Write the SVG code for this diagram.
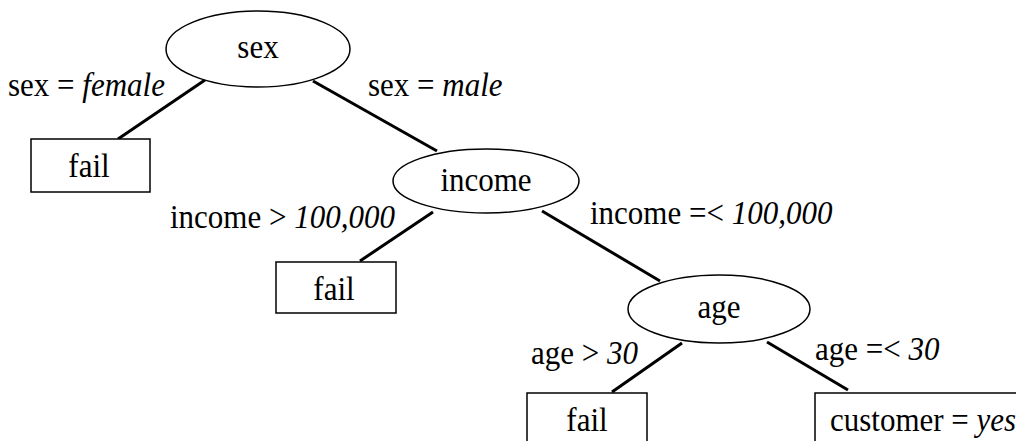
<svg xmlns="http://www.w3.org/2000/svg" width="1016" height="441" viewBox="0 0 1016 441">
<style>
text{font-family:'Liberation Serif','Times New Roman',serif;font-size:31px;fill:#000}
.it{font-style:italic}
.m{text-anchor:middle}
.n{fill:#fff;stroke:#000;stroke-width:1.5}
.e{stroke:#000;stroke-width:3;fill:none}
</style>
<rect width="1016" height="441" fill="#fff"/>
<g id="connectors">
<line class="e" x1="205" y1="80" x2="118" y2="139"/>
<line class="e" x1="313" y1="81" x2="437" y2="151"/>
<line class="e" x1="433" y1="212" x2="360" y2="261"/>
<line class="e" x1="542" y1="211" x2="660" y2="281"/>
<line class="e" x1="682" y1="343" x2="612" y2="392"/>
<line class="e" x1="767" y1="342" x2="848" y2="390"/>
</g>
<g id="labels">
<text transform="translate(8,96) scale(1,1.12)">sex = <tspan class="it">female</tspan></text>
<text transform="translate(368,96) scale(1,1.12)">sex = <tspan class="it">male</tspan></text>
<text transform="translate(170,228) scale(1,1.12)">income &gt; <tspan class="it">100,000</tspan></text>
<text transform="translate(590,224) scale(1,1.12)">income =&lt; <tspan class="it">100,000</tspan></text>
<text transform="translate(531,364) scale(1,1.12)">age &gt; <tspan class="it">30</tspan></text>
<text transform="translate(815,360) scale(1,1.12)">age =&lt; <tspan class="it">30</tspan></text>
</g>
<g id="node-sex">
<ellipse class="n" cx="258" cy="49" rx="92" ry="38"/>
<text class="m" transform="translate(258,58) scale(1,1.12)">sex</text>
</g>
<g id="node-fail1">
<rect class="n" x="31" y="139" width="119" height="53"/>
<text class="m" transform="translate(89,177) scale(1,1.12)">fail</text>
</g>
<g id="node-income">
<ellipse class="n" cx="486" cy="181" rx="93" ry="32"/>
<text class="m" transform="translate(486,191) scale(1,1.12)">income</text>
</g>
<g id="node-fail2">
<rect class="n" x="276" y="262" width="120" height="51"/>
<text class="m" transform="translate(334,300) scale(1,1.12)">fail</text>
</g>
<g id="node-age">
<ellipse class="n" cx="719" cy="309" rx="91" ry="34"/>
<text class="m" transform="translate(719,318) scale(1,1.12)">age</text>
</g>
<g id="node-fail3">
<rect class="n" x="527" y="393" width="120" height="60"/>
<text class="m" transform="translate(587,431) scale(1,1.12)">fail</text>
</g>
<g id="node-customer">
<rect class="n" x="815" y="393" width="220" height="60"/>
<text transform="translate(830,431) scale(1,1.12)">customer = <tspan class="it">yes</tspan></text>
</g>
</svg>
